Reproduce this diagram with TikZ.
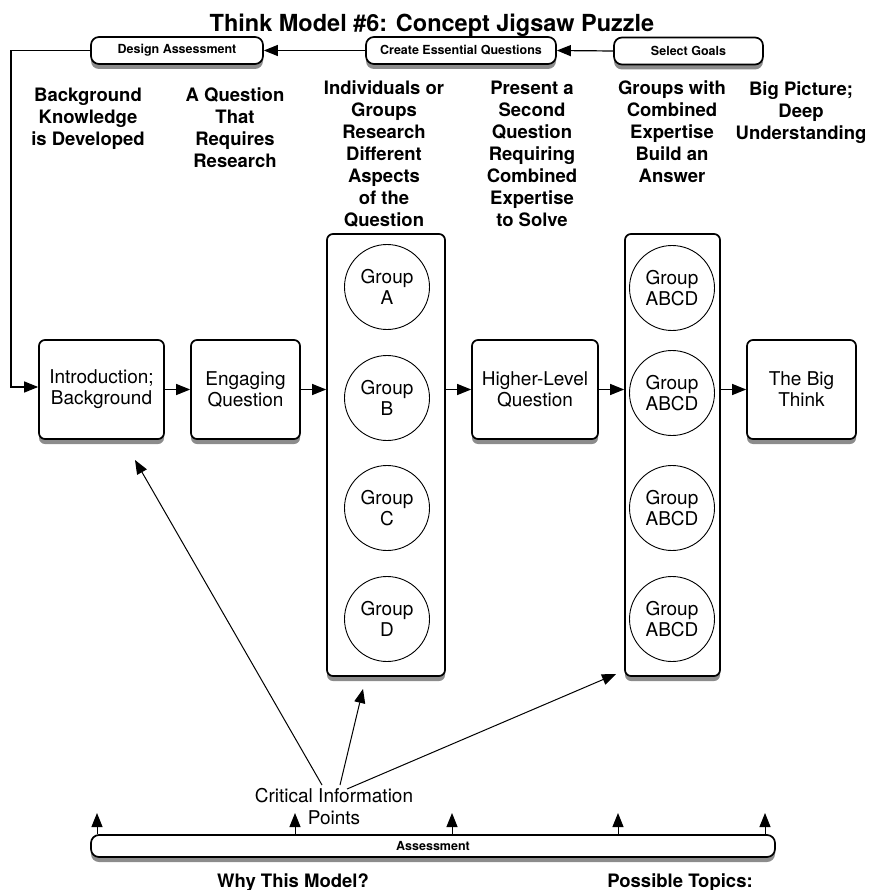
\documentclass[tikz,border=0pt]{standalone}
\usepackage{fontspec}
\setmainfont{TeX Gyre Heros}
\usetikzlibrary{arrows.meta,shadows}

\begin{document}
\begin{tikzpicture}[x=1pt,y=-1pt,
  shad/.style={drop shadow={shadow xshift=0pt,shadow yshift=-5pt,fill=black!45,opacity=1}},
  topbox/.style={draw,line width=1.7pt,rounded corners=8pt,fill=white,shad,inner sep=0pt,minimum height=27pt,font=\fontsize{12.5}{14}\selectfont\bfseries},
  stepbox/.style={draw,line width=1.7pt,rounded corners=6pt,fill=white,shad,inner sep=0pt,minimum height=99pt,align=center,font=\fontsize{19}{21}\selectfont},
  colbox/.style={draw,line width=1.7pt,rounded corners=6pt,fill=white,shad,inner sep=0pt,minimum height=442pt},
  grp/.style={draw,circle,line width=0.9pt,minimum size=85pt,inner sep=0pt,align=center,font=\fontsize{19}{21}\selectfont},
  head/.style={anchor=base,align=center,inner sep=0pt,font=\fontsize{18.5}{22}\selectfont\bfseries},
  arr/.style={line width=1.2pt,-{Triangle[length=14pt,width=11pt]}},
]
\useasboundingbox (0,0) rectangle (869,890);

% title
\node[anchor=base,inner sep=0pt,font=\fontsize{23.5}{26}\selectfont\bfseries] (title) at (432,32) {Think Model \#6: Concept Jigsaw Puzzle};

% planning chain
\node[topbox,minimum width=172pt] (da) at (177,50.5) {Design Assessment};
\node[topbox,minimum width=190pt] (ceq) at (461,50.5) {Create Essential Questions};
\node[topbox,minimum width=149pt] (sg) at (688.5,51) {Select Goals};

% column headings (base = baseline of the last line)
\node[head] (h1) at (88,145.5) {Background\\Knowledge\\is Developed};
\node[head] (h2) at (235,167.5) {A Question\\That\\Requires\\Research};
\node[head] (h3) at (384,227) {Individuals or\\Groups\\Research\\Different\\Aspects\\of the\\Question};
\node[head] (h4) at (532,227) {Present a\\Second\\Question\\Requiring\\Combined\\Expertise\\to Solve};
\node[head] (h5) at (672,183) {Groups with\\Combined\\Expertise\\Build an\\Answer};
\node[head] (h6) at (801,140) {Big Picture;\\Deep\\Understanding};

% main sequence
\node[stepbox,minimum width=125pt] (intro) at (101.5,389.5) {Introduction;\\Background};
\node[stepbox,minimum width=109pt] (eng) at (245.5,389.5) {Engaging\\Question};
\node[colbox,minimum width=118pt] (colA) at (386,455) {};
\node[stepbox,minimum width=126pt] (hlq) at (535,389.5) {Higher-Level\\Question};
\node[colbox,minimum width=95pt] (colB) at (672.5,455) {};
\node[stepbox,minimum width=109pt] (big) at (801.5,389.5) {The Big\\Think};

% expert groups
\node[grp] (ga) at (387,287) {Group\\A};
\node[grp] (gb) at (387,398) {Group\\B};
\node[grp] (gc) at (387,508) {Group\\C};
\node[grp] (gd) at (387,619) {Group\\D};

% jigsaw groups
\node[grp] (j1) at (672,288) {Group\\ABCD};
\node[grp] (j2) at (672,393) {Group\\ABCD};
\node[grp] (j3) at (672,508) {Group\\ABCD};
\node[grp] (j4) at (672,619) {Group\\ABCD};

% assessment bar and footer
\node[topbox,minimum width=684pt,minimum height=22pt] (asm) at (433,846) {Assessment};
\node[anchor=base,align=center,inner sep=0pt,font=\fontsize{19}{22}\selectfont] (cip) at (334,824) {Critical Information\\Points};
\node[anchor=base,inner sep=0pt,font=\fontsize{18.5}{22}\selectfont\bfseries] (why) at (293,887) {Why This Model?};
\node[anchor=base,inner sep=0pt,font=\fontsize{18.5}{22}\selectfont\bfseries] (topics) at (680,887) {Possible Topics:};

% connectors: planning chain
\draw[arr] (sg.west) -- (ceq.east);
\draw[arr] (ceq.west) -- (da.east);
\coordinate (lc) at (11,387);
\draw[arr] (da.west) -| (lc) -- (lc -| intro.west);

% connectors: main sequence
\draw[arr] (intro.east) -- (eng.west);
\draw[arr] (eng.east) -- (eng.east -| colA.west);
\draw[arr] (hlq.west -| colA.east) -- (hlq.west);
\draw[arr] (hlq.east) -- (hlq.east -| colB.west);
\draw[arr] (big.west -| colB.east) -- (big.west);

% critical information points
\coordinate (s1) at (322,785);
\coordinate (s2) at (340,785);
\coordinate (s3) at (347,789);
\coordinate (e1) at (135,460);
\coordinate (e2) at (363,689);
\coordinate (e3) at (616,674);
\draw[arr,line width=1pt] (s1) -- (e1);
\draw[arr,line width=1pt] (s2) -- (e2);
\draw[arr,line width=1pt] (s3) -- (e3);

% assessment checkpoints
\foreach \n/\x in {1/97,2/295,3/452,4/618,5/765}{
  \coordinate (t\n) at (\x,813);
  \draw[arr,line width=1pt] (t\n |- asm.north) -- (t\n);
}
\end{tikzpicture}
\end{document}
